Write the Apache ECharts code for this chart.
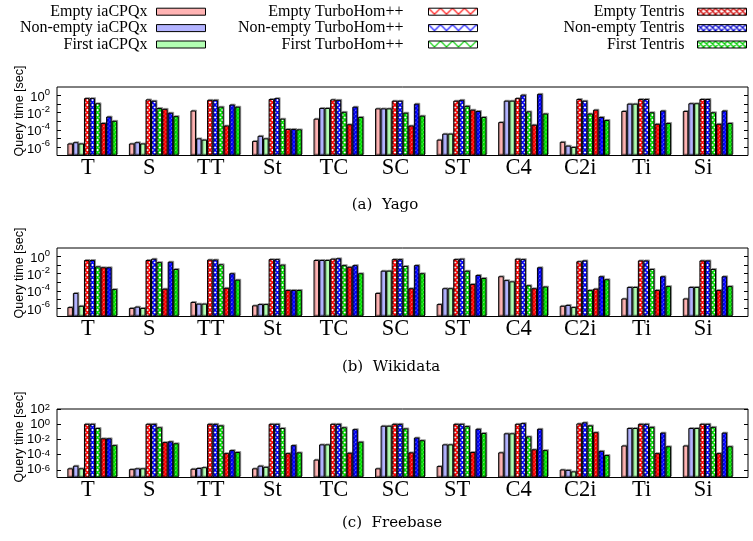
<!DOCTYPE html>
<html>
<head>
<meta charset="utf-8">
<script src="https://cdn.jsdelivr.net/npm/echarts@6/dist/echarts.min.js"></script>
<style>
  html, body { margin: 0; background: #fff; }
  #chart { width: 753px; height: 541px; }
</style>
</head>
<body>
<div id="chart"></div>
<script>
const categories = ['T', 'S', 'TT', 'St', 'TC', 'SC', 'ST', 'C4', 'C2i', 'Ti', 'Si']
const seriesNames = [
  'Empty iaCPQx', 'Non-empty iaCPQx', 'First iaCPQx',
  'Empty TurboHom++', 'Non-empty TurboHom++', 'First TurboHom++',
  'Empty Tentris', 'Non-empty Tentris', 'First Tentris',
]
const captions = ['(a)  Yago', '(b)  Wikidata', '(c)  Freebase']

// query time [sec] as log10 exponents, one row per series (same order as seriesNames)
const yagoLog = [
  [-5.6, -5.6, -1.75, -5.3, -2.7, -1.5, -5.15, -3.1, -5.4, -1.8, -1.8],
  [-5.45, -5.45, -5.0, -4.7, -1.45, -1.5, -4.45, -0.6, -5.85, -0.95, -0.9],
  [-5.6, -5.6, -5.15, -5.0, -1.45, -1.5, -4.45, -0.6, -6.0, -0.95, -0.9],
  [-0.3, -0.45, -0.5, -0.4, -0.45, -0.6, -0.6, -0.3, -0.4, -0.4, -0.4],
  [-0.3, -0.6, -0.5, -0.3, -0.5, -0.6, -0.5, 0.1, -0.6, -0.4, -0.4],
  [-0.9, -1.45, -1.3, -2.7, -1.9, -2.0, -1.2, -1.85, -2.1, -1.95, -1.95],
  [-3.2, -1.55, -3.5, -3.9, -3.35, -3.5, -1.65, -3.4, -1.65, -3.3, -3.3],
  [-2.45, -2.0, -1.05, -3.9, -1.3, -0.95, -1.8, 0.2, -2.5, -1.75, -1.75],
  [-2.95, -2.4, -1.3, -3.95, -2.5, -2.35, -2.5, -2.1, -2.85, -3.2, -3.2],
]
const wikidataLog = [
  [-5.9, -6.0, -5.3, -5.7, -0.4, -4.25, -5.55, -2.3, -5.75, -4.9, -4.9],
  [-4.25, -5.85, -5.5, -5.55, -0.4, -1.65, -3.7, -2.75, -5.65, -3.55, -3.55],
  [-5.75, -6.0, -5.5, -5.55, -0.4, -1.65, -3.7, -2.9, -5.9, -3.55, -3.55],
  [-0.4, -0.4, -0.35, -0.3, -0.25, -0.3, -0.3, -0.25, -0.55, -0.45, -0.45],
  [-0.4, -0.25, -0.35, -0.3, -0.2, -0.3, -0.25, -0.3, -0.45, -0.45, -0.45],
  [-1.15, -0.65, -0.9, -0.95, -1.0, -1.1, -1.65, -3.35, -3.9, -1.45, -1.45],
  [-1.25, -3.75, -3.65, -3.9, -1.2, -3.7, -3.2, -3.7, -3.75, -3.9, -3.9],
  [-1.25, -0.6, -1.95, -3.9, -1.0, -1.0, -2.15, -1.25, -2.3, -2.3, -2.3],
  [-3.8, -1.45, -2.7, -3.9, -1.95, -1.95, -2.5, -3.5, -2.65, -3.45, -3.45],
]
const freebaseLog = [
  [-5.8, -5.9, -5.85, -5.8, -4.65, -5.8, -5.5, -3.7, -5.95, -2.8, -2.8],
  [-5.45, -5.8, -5.75, -5.45, -2.65, -0.2, -2.65, -1.2, -6.0, -0.5, -0.5],
  [-5.8, -5.8, -5.65, -5.6, -2.65, -0.2, -2.65, -1.2, -6.2, -0.5, -0.5],
  [0.05, 0.05, 0.05, 0.05, 0.05, 0.05, 0.05, 0.05, 0.1, 0.05, 0.05],
  [0.05, 0.05, 0.05, 0.05, 0.05, 0.05, 0.05, 0.15, 0.25, 0.05, 0.05],
  [-0.5, -0.4, -0.15, -0.5, -0.4, -0.55, -0.25, -1.6, -0.15, -0.35, -0.35],
  [-1.85, -2.35, -3.8, -3.8, -3.75, -3.7, -3.65, -3.3, -1.05, -3.8, -3.8],
  [-1.85, -2.25, -3.4, -2.75, -0.65, -1.75, -0.6, -0.6, -3.5, -1.1, -1.1],
  [-2.75, -2.5, -3.65, -3.7, -2.3, -2.1, -1.15, -3.4, -4.05, -2.9, -2.9],
]

// y axis ticks / labels (exponents of 10)
const ticksYagoWiki = [-6, -5, -4, -3, -2, -1, 0]
const labelsYagoWiki = [-6, -4, -2, 0]
const ticksFreebase = [-6, -4, -2, 0, 2]
const labelsFreebase = [-6, -4, -2, 0, 2]

// crosshatch fill for the TurboHom++ / Tentris bars
const makeHatch = (color, size, lw) => {
  const c = document.createElement('canvas')
  c.width = c.height = size
  const ctx = c.getContext('2d')
  ctx.fillStyle = '#fff'
  ctx.fillRect(0, 0, size, size)
  ctx.strokeStyle = color
  ctx.lineWidth = lw
  ctx.beginPath()
  for (const o of [-size, 0, size]) {
    ctx.moveTo(o, 0); ctx.lineTo(o + size, size)
    ctx.moveTo(o + size, 0); ctx.lineTo(o, size)
  }
  ctx.stroke()
  return { image: c, repeat: 'repeat' }
}

const barFills = [
  '#ffb3b3', '#b3b3ff', '#b3ffb3',
  makeHatch('#ff0000', 5, 1.6), makeHatch('#0000ff', 5, 1.6), makeHatch('#00e000', 5, 1.6),
  makeHatch('#ff0000', 4, 2), makeHatch('#0000ff', 4, 2), makeHatch('#00e000', 4, 2),
]
const legendFills = [
  '#ffb3b3', '#b3b3ff', '#b3ffb3',
  makeHatch('#ff0000', 12, 1.2), makeHatch('#0000ff', 12, 1.2), makeHatch('#00cc00', 12, 1.2),
  makeHatch('#cc0000', 6, 1.3), makeHatch('#0000cc', 6, 1.3), makeHatch('#00cc00', 6, 1.3),
]

// superscript label styles: roomy one for 8-decade panels, compact one for the 9-decade panel
const richWide = {
  b: { fontFamily: 'Liberation Sans', fontSize: 13, color: '#000', verticalAlign: 'bottom' },
  s: { fontFamily: 'Liberation Sans', fontSize: 9.5, color: '#000', verticalAlign: 'top', padding: [0, 0, 7, 0] },
}
const richTight = {
  b: { fontFamily: 'Liberation Sans', fontSize: 13, lineHeight: 13, color: '#000', verticalAlign: 'bottom' },
  s: { fontFamily: 'Liberation Sans', fontSize: 9.5, lineHeight: 8, color: '#000', verticalAlign: 'top', padding: [0, 0, 5, 0] },
}

const panels = [
  { rows: yagoLog, top: 87, max: 10, ticks: ticksYagoWiki, labels: labelsYagoWiki, rich: richWide, capX: 385, capY: 205, nameY: 111 },
  { rows: wikidataLog, top: 248, max: 10, ticks: ticksYagoWiki, labels: labelsYagoWiki, rich: richWide, capX: 391, capY: 367, nameY: 273 },
  { rows: freebaseLog, top: 409, max: 100, ticks: ticksFreebase, labels: labelsFreebase, rich: richTight, capX: 392, capY: 523, nameY: 437 },
]

const grids = []
const xAxes = []
const yAxes = []
const series = []
const graphics = []

panels.forEach((p, pi) => {
  const h = 68.5
  const g0 = grids.length
  grids.push({ left: 57, right: 5, top: p.top, height: h, show: true, borderColor: '#000', borderWidth: 1, backgroundColor: 'transparent' })
  grids.push({ left: 57, width: 677, top: p.top, height: h })
  grids.push({ left: 61.5, width: 677, top: p.top, height: h })

  const logAxis = { type: 'log', logBase: 10, min: 1e-7, max: p.max }
  const tickStyle = { inside: true, length: 4, lineStyle: { color: '#000', width: 1 }, customValues: p.ticks.map((e) => 10 ** e) }

  // frame grid: y ticks on both sides
  xAxes.push({ gridIndex: g0, type: 'value', show: false, min: 0, max: 1 })
  yAxes.push({
    ...logAxis, gridIndex: g0, position: 'left',
    axisLine: { show: false }, splitLine: { show: false },
    axisTick: tickStyle,
    axisLabel: {
      customValues: p.labels.map((e) => 10 ** e),
      margin: 7,
      color: '#000',
      formatter: (v) => '{b|10}{s|' + Math.round(Math.log10(v)) + '}',
      rich: p.rich,
    },
  })
  yAxes.push({
    ...logAxis, gridIndex: g0, position: 'right',
    axisLine: { show: false }, splitLine: { show: false },
    axisTick: tickStyle, axisLabel: { show: false },
  })

  // label grid: category names at bottom, ticks at top
  xAxes.push({
    gridIndex: g0 + 1, type: 'category', data: categories, position: 'bottom',
    axisLine: { show: false }, axisTick: { show: false },
    axisLabel: { interval: 0, margin: 1, color: '#000', fontFamily: 'Liberation Serif', fontSize: 22.5 },
  })
  xAxes.push({
    gridIndex: g0 + 1, type: 'category', data: categories, position: 'top',
    axisLine: { show: false }, axisLabel: { show: false },
    axisTick: { inside: true, alignWithLabel: true, length: 4, lineStyle: { color: '#000' } },
  })
  yAxes.push({ gridIndex: g0 + 1, type: 'value', show: false })

  // data grid
  const xi = xAxes.length
  xAxes.push({ gridIndex: g0 + 2, type: 'category', data: categories, show: false })
  const yi = yAxes.length
  yAxes.push({ ...logAxis, gridIndex: g0 + 2, show: false, startValue: 1e-7 })

  p.rows.forEach((row, si) => {
    series.push({
      type: 'bar',
      name: seriesNames[si],
      xAxisIndex: xi,
      yAxisIndex: yi,
      data: row.map((e) => 10 ** e),
      barGap: '0%',
      barCategoryGap: '19%',
      silent: true,
      itemStyle: {
        color: barFills[si],
        borderColor: '#000',
        borderWidth: 1,
        shadowColor: 'rgba(0, 0, 0, 0.3)',
        shadowOffsetX: 1,
        shadowOffsetY: -1,
      },
    })
  })

  graphics.push({
    type: 'text', x: p.capX, y: p.capY,
    style: { text: captions[pi], font: '15px "DejaVu Serif"', fill: '#000', align: 'center', verticalAlign: 'middle' },
  })
  graphics.push({
    type: 'text', x: 20, y: p.nameY, rotation: Math.PI / 2,
    style: { text: 'Query time [sec]', font: '12.5px "Liberation Sans"', fill: '#000', align: 'center', verticalAlign: 'middle' },
  })
})

const legendRights = [547, 275, 6]
const legendPads = [' ', '     ', '  ']
const legends = legendRights.map((r, g) => ({
  orient: 'vertical',
  right: r,
  top: 3.5,
  padding: 0,
  itemGap: 0,
  itemWidth: 49,
  itemHeight: 7,
  align: 'right',
  icon: 'rect',
  selectedMode: false,
  formatter: (n) => n + legendPads[g],
  textStyle: { fontFamily: 'Liberation Serif', fontSize: 16, color: '#000', lineHeight: 16.4 },
  itemStyle: { borderColor: '#000', borderWidth: 1 },
  data: seriesNames.slice(g * 3, g * 3 + 3).map((name, k) => ({
    name,
    itemStyle: { color: legendFills[g * 3 + k], borderColor: '#000', borderWidth: 1 },
  })),
}))

const chart = echarts.init(document.getElementById('chart'))
chart.setOption({
  animation: false,
  backgroundColor: '#fff',
  legend: legends,
  grid: grids,
  xAxis: xAxes,
  yAxis: yAxes,
  series,
  graphic: graphics,
})
</script>
</body>
</html>
